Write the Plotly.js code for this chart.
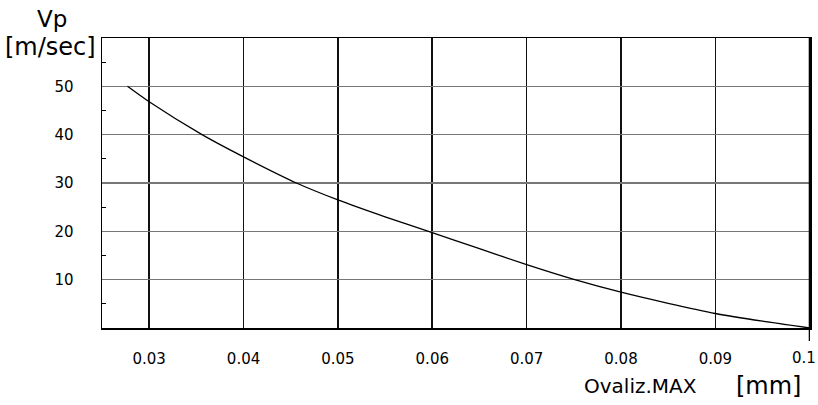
<!DOCTYPE html>
<html>
<head>
<meta charset="utf-8">
<script src="https://cdn.plot.ly/plotly-3.0.1.min.js"></script>
<style>html,body{margin:0;padding:0;background:#fff;}#chart{width:818px;height:405px;}</style>
</head>
<body>
<div id="chart"></div>
<script>
// Data
const ovalizMax = [0.0277, 0.030, 0.0356, 0.040, 0.0456, 0.050, 0.055, 0.0596, 0.065, 0.070, 0.0751, 0.080, 0.085, 0.090, 0.095, 0.100];
const vp        = [50.0,   46.8,  40.0,   35.4,  30.0,   26.5,  23.0,  20.0,   16.4,  13.1,  10.0,   7.4,   5.1,   3.0,   1.4,   0.0];
const xTickVals = [0.03, 0.04, 0.05, 0.06, 0.07, 0.08, 0.09, 0.1];
const xTickText = ['0.03', '0.04', '0.05', '0.06', '0.07', '0.08', '0.09', ''];
const lastXTickVal = 0.1, lastXTickText = '0.1';
const yTickVals = [10, 20, 30, 40, 50];
const yTickText = ['10', '20', '30', '40', '50'];

const FONT = 'DejaVu Sans, sans-serif';

const trace = {
  x: ovalizMax, y: vp, type: 'scatter', mode: 'lines',
  line: {color: '#000', width: 1.3, shape: 'spline', smoothing: 0.7},
  hoverinfo: 'skip', showlegend: false, cliponaxis: false
};

const layout = {
  width: 818, height: 405,
  margin: {l: 102, r: 8, t: 38, b: 77},
  paper_bgcolor: '#fff', plot_bgcolor: '#fff',
  font: {family: FONT, color: '#000'},
  xaxis: {
    range: [0.025, 0.10003], tickmode: 'array', tickvals: xTickVals, ticktext: xTickText,
    showgrid: true, gridcolor: '#111', gridwidth: 1.6,
    showline: true, linecolor: '#000', linewidth: 1.5, mirror: true,
    ticks: '', zeroline: false, ticklabelstandoff: 16,
    tickfont: {family: FONT, size: 15, color: '#000'}
  },
  yaxis: {
    range: [0, 60], tickmode: 'array', tickvals: yTickVals, ticktext: yTickText,
    showgrid: true, gridcolor: '#777', gridwidth: 1.3,
    showline: true, linecolor: '#000', linewidth: 1.5, mirror: true,
    ticks: '', zeroline: false, ticklabelstandoff: 24,
    tickfont: {family: FONT, size: 15, color: '#000'},
    minor: {tickmode: 'linear', tick0: 5, dtick: 10, ticks: 'inside', ticklen: 4, tickwidth: 1, tickcolor: '#000', showgrid: false}
  },
  shapes: [
    {type: 'line', xref: 'x', yref: 'paper', x0: 0.1, x1: 0.1, y0: -0.045, y1: 1, line: {color: '#000', width: 2}}
  ],
  annotations: [
    {text: lastXTickText, xref: 'x', yref: 'paper', x: lastXTickVal, y: -0.102, xanchor: 'center', yanchor: 'middle', xshift: -6, showarrow: false, font: {family: FONT, size: 15, color: '#000'}},
    {text: 'Vp', xref: 'paper', yref: 'paper', x: -0.071, y: 1.065, xanchor: 'center', yanchor: 'middle', showarrow: false, font: {family: FONT, size: 23, color: '#000'}},
    {text: '[m/sec]', xref: 'paper', yref: 'paper', x: -0.073, y: 0.97, xanchor: 'center', yanchor: 'middle', showarrow: false, font: {family: FONT, size: 24, color: '#000'}},
    {text: 'Ovaliz.MAX', xref: 'paper', yref: 'paper', x: 0.678, y: -0.2, xanchor: 'left', yanchor: 'middle', showarrow: false, font: {family: FONT, size: 20, color: '#000'}},
    {text: '[mm]', xref: 'paper', yref: 'paper', x: 0.99, y: -0.2, xanchor: 'right', yanchor: 'middle', showarrow: false, font: {family: FONT, size: 24, color: '#000'}}
  ]
};

Plotly.newPlot('chart', [trace], layout, {staticPlot: true, displayModeBar: false});
</script>
</body>
</html>
